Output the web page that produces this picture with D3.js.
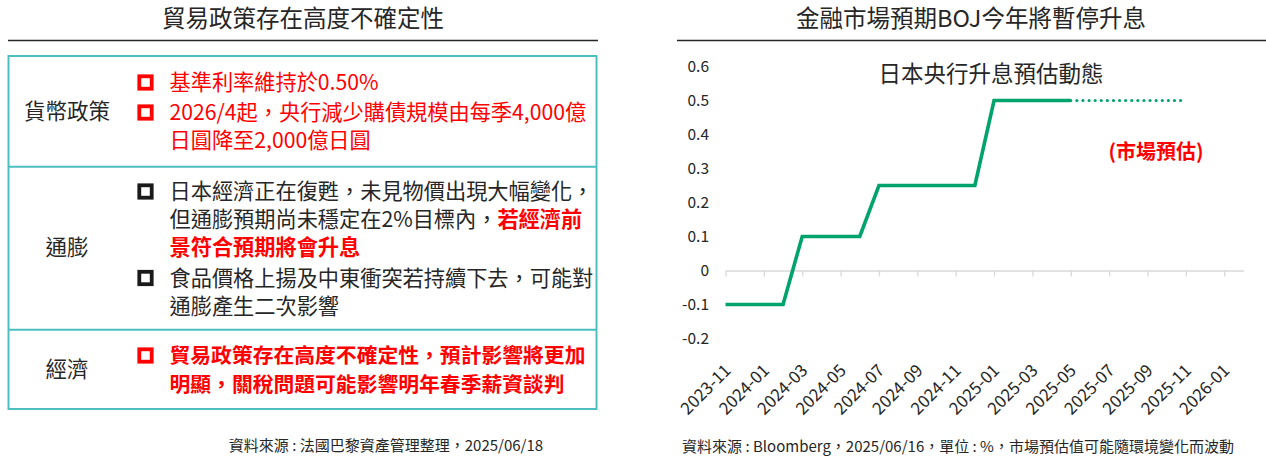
<!DOCTYPE html>
<html>
<head>
<meta charset="utf-8">
<script src="https://cdn.jsdelivr.net/npm/d3@7/dist/d3.min.js"></script>
<style>
  html, body { margin: 0; padding: 0; background: #fff; }
  svg { display: block; }
  text { font-family: "Noto Sans CJK TC", "Noto Sans", sans-serif; }
</style>
</head>
<body>
<svg id="chart" width="1266" height="457"></svg>
<script>
// ---------- Data ----------
const leftTitle = "貿易政策存在高度不確定性";
const rightTitle = "金融市場預期BOJ今年將暫停升息";
const chartSubtitle = "日本央行升息預估動態";
const forecastLabel = "(市場預估)";
const leftSource = "資料來源 : 法國巴黎資產管理整理，2025/06/18";
const rightSource = "資料來源 : Bloomberg，2025/06/16，單位 : %，市場預估值可能隨環境變化而波動";

const rowLabels = ["貨幣政策", "通膨", "經濟"];
// each bullet: lines; each line = list of [text, isRed, isBold]
const bulletRed = [true, true, false, false, true];
const bulletLines = [
  [[["基準利率維持於0.50%", true, false]]],
  [[["2026/4起，央行減少購債規模由每季4,000億", true, false]],
   [["日圓降至2,000億日圓", true, false]]],
  [[["日本經濟正在復甦，未見物價出現大幅變化，", false, false]],
   [["但通膨預期尚未穩定在2%目標內，", false, false], ["若經濟前", true, true]],
   [["景符合預期將會升息", true, true]]],
  [[["食品價格上揚及中東衝突若持續下去，可能對", false, false]],
   [["通膨產生二次影響", false, false]]],
  [[["貿易政策存在高度不確定性，預計影響將更加", true, true]],
   [["明顯，關稅問題可能影響明年春季薪資談判", true, true]]]
];

const months = ["2023-11","2023-12","2024-01","2024-02","2024-03","2024-04","2024-05","2024-06",
  "2024-07","2024-08","2024-09","2024-10","2024-11","2024-12","2025-01","2025-02","2025-03",
  "2025-04","2025-05","2025-06","2025-07","2025-08","2025-09","2025-10","2025-11","2025-12",
  "2026-01","2026-02"];
const tickLabels = ["2023-11","2024-01","2024-03","2024-05","2024-07","2024-09","2024-11",
  "2025-01","2025-03","2025-05","2025-07","2025-09","2025-11","2026-01"];
const actualMonths = ["2023-11","2023-12","2024-01","2024-02","2024-03","2024-04","2024-05",
  "2024-06","2024-07","2024-08","2024-09","2024-10","2024-11","2024-12","2025-01","2025-02",
  "2025-03","2025-04","2025-05"];
const actualRates = [-0.1,-0.1,-0.1,-0.1,0.1,0.1,0.1,0.1,0.25,0.25,0.25,0.25,0.25,0.25,0.5,0.5,0.5,0.5,0.5];
const forecastMonths = ["2025-05","2025-06","2025-07","2025-08","2025-09","2025-10","2025-11"];
const forecastRates = [0.5,0.5,0.5,0.5,0.5,0.5,0.5];
const yTicks = [-0.2,-0.1,0,0.1,0.2,0.3,0.4,0.5,0.6];

// ---------- Styles ----------
const dark = "#262626";
const red = "#FF0000";
const teal = "#4DBFC1";
const green = "#00A36C";

const svg = d3.select("#chart");

// ---------- Left panel ----------
svg.append("text").attr("x", 303).attr("y", 19).attr("dy", "0.36em")
  .attr("text-anchor", "middle").attr("font-size", 23.5).attr("fill", dark).text(leftTitle);
svg.append("line").attr("x1", 8).attr("x2", 598).attr("y1", 40.5).attr("y2", 40.5)
  .attr("stroke", dark).attr("stroke-width", 1.6);

const tableTop = 56, tableBottom = 409, tableLeft = 8.5, tableRight = 596.5;
const rowSeps = [166.7, 329.7];
svg.append("rect").attr("x", tableLeft).attr("y", tableTop)
  .attr("width", tableRight - tableLeft).attr("height", tableBottom - tableTop)
  .attr("fill", "none").attr("stroke", teal).attr("stroke-width", 2);
svg.selectAll("line.sep").data(rowSeps).join("line").attr("class", "sep")
  .attr("x1", tableLeft).attr("x2", tableRight).attr("y1", d => d).attr("y2", d => d)
  .attr("stroke", teal).attr("stroke-width", 2);

const labelY = [111, 247.5, 369.5];
svg.selectAll("text.rowlabel").data(rowLabels).join("text").attr("class", "rowlabel")
  .attr("x", 67).attr("y", (d, i) => labelY[i]).attr("dy", "0.36em")
  .attr("text-anchor", "middle").attr("font-size", 21.5).attr("fill", dark).text(d => d);

const bulletLineY = [
  [82.5],
  [112.5, 140.7],
  [191.5, 219.5, 247.5],
  [278, 306],
  [355.5, 384.3]
];
const bulletFont = [21.2, 21.2, 21.2, 21.2, 20.8];
bulletLines.forEach((lines, b) => {
  const c = bulletRed[b] ? red : "#1a1a1a";
  const y0 = bulletLineY[b][0];
  svg.append("rect").attr("x", 139.3).attr("y", y0 - 6.2)
    .attr("width", 12.4).attr("height", 12.4)
    .attr("fill", "none").attr("stroke", c).attr("stroke-width", 3.8);
  lines.forEach((segs, li) => {
    const t = svg.append("text").attr("x", 169.5).attr("y", bulletLineY[b][li]).attr("dy", "0.36em")
      .attr("font-size", bulletFont[b]);
    segs.forEach(s => {
      t.append("tspan").attr("fill", s[1] ? red : dark)
        .attr("font-weight", s[2] ? 700 : 400).text(s[0]);
    });
  });
});

svg.append("text").attr("x", 386).attr("y", 446).attr("dy", "0.36em")
  .attr("text-anchor", "middle").attr("font-size", 15).attr("fill", dark).text(leftSource);

// ---------- Right panel ----------
svg.append("text").attr("x", 971).attr("y", 19).attr("dy", "0.36em")
  .attr("text-anchor", "middle").attr("font-size", 23.5).attr("fill", dark).text(rightTitle);
svg.append("line").attr("x1", 677).attr("x2", 1266).attr("y1", 40.5).attr("y2", 40.5)
  .attr("stroke", dark).attr("stroke-width", 1.6);

const x = d3.scalePoint().domain(months).range([725.5, 1243.4]).padding(0);
const y = d3.scaleLinear().domain([-0.2, 0.6]).range([338.5, 66.5]);

const zeroAxis = svg.append("g").attr("transform", `translate(0,${y(0)})`)
  .call(d3.axisBottom(x).tickValues(tickLabels).tickSize(6).tickSizeOuter(0).tickFormat(""));
zeroAxis.select(".domain").attr("stroke", "#d9d9d9").attr("stroke-width", 1.3);
zeroAxis.selectAll(".tick line").attr("stroke", "#d9d9d9").attr("stroke-width", 1.3);

const labelAxis = svg.append("g").attr("transform", `translate(0,${y(-0.2)})`)
  .call(d3.axisBottom(x).tickValues(tickLabels).tickSize(0).tickPadding(0));
labelAxis.select(".domain").remove();
labelAxis.selectAll(".tick text")
  .attr("font-size", 17).attr("fill", dark)
  .attr("font-family", "'Noto Sans CJK TC', sans-serif")
  .attr("text-anchor", "end")
  .attr("dy", null).attr("y", null)
  .attr("transform", "translate(6,33) rotate(-45)");

const yAxis = svg.append("g").attr("transform", "translate(709,0)")
  .call(d3.axisLeft(y).tickValues(yTicks).tickSize(0).tickPadding(0)
    .tickFormat(d => Math.abs(d) < 1e-9 ? "0" : d.toFixed(1)));
yAxis.select(".domain").remove();
yAxis.selectAll(".tick text").attr("font-size", 15.5).attr("fill", dark)
  .attr("font-family", "'Noto Sans CJK TC', sans-serif");

const line = d3.line().x(d => x(d[0])).y(d => y(d[1]));
svg.append("path").datum(actualMonths.map((m, i) => [m, actualRates[i]]))
  .attr("d", line).attr("fill", "none").attr("stroke", green)
  .attr("stroke-width", 3.6).attr("stroke-linejoin", "miter");
svg.append("path").datum(forecastMonths.map((m, i) => [m, forecastRates[i]]))
  .attr("d", line).attr("fill", "none").attr("stroke", green)
  .attr("stroke-width", 3.2).attr("stroke-linecap", "round")
  .attr("stroke-dasharray", "0 6.1");

svg.append("text").attr("x", 991).attr("y", 74).attr("dy", "0.36em")
  .attr("text-anchor", "middle").attr("font-size", 22.5).attr("fill", dark).text(chartSubtitle);
svg.append("text").attr("x", 1156).attr("y", 152).attr("dy", "0.36em")
  .attr("text-anchor", "middle").attr("font-size", 20).attr("font-weight", 700)
  .attr("fill", red).text(forecastLabel);

svg.append("text").attr("x", 958).attr("y", 447).attr("dy", "0.36em")
  .attr("text-anchor", "middle").attr("font-size", 15).attr("fill", dark).text(rightSource);
</script>
</body>
</html>
